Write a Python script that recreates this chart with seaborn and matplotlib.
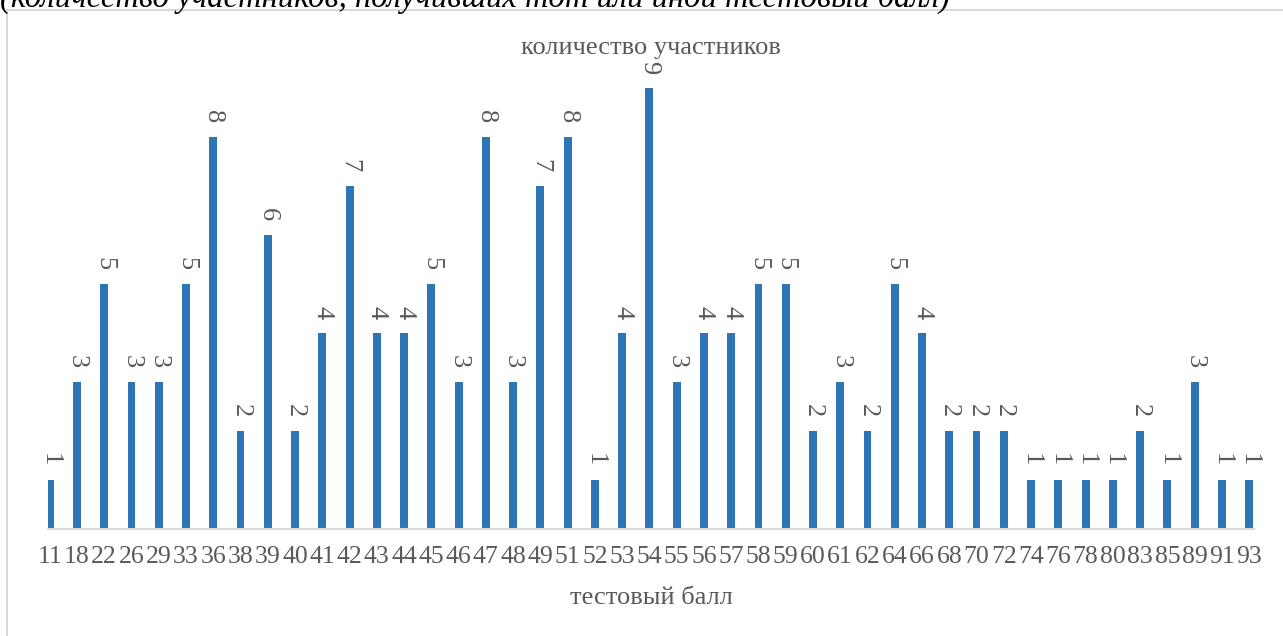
import matplotlib
matplotlib.use("Agg")
import matplotlib.pyplot as plt
import seaborn as sns
import pandas as pd
from matplotlib.lines import Line2D

scores = ["11", "18", "22", "26", "29", "33", "36", "38", "39", "40",
          "41", "42", "43", "44", "45", "46", "47", "48", "49", "51",
          "52", "53", "54", "55", "56", "57", "58", "59", "60", "61",
          "62", "64", "66", "68", "70", "72", "74", "76", "78", "80",
          "83", "85", "89", "91", "93"]
counts = [1, 3, 5, 3, 3, 5, 8, 2, 6, 2,
          4, 7, 4, 4, 5, 3, 8, 3, 7, 8,
          1, 4, 9, 3, 4, 4, 5, 5, 2, 3,
          2, 5, 4, 2, 2, 2, 1, 1, 1, 1,
          2, 1, 3, 1, 1]
title = "количество участников"
xlabel = "тестовый балл"
caption = "(количество участников, получивших тот или иной тестовый балл)"

df = pd.DataFrame({"score": scores, "count": counts})

sns.set_style("white")
plt.rcParams["font.family"] = ["Liberation Serif", "DejaVu Serif"]

W, H = 1283, 636
fig = plt.figure(figsize=(W / 100, H / 100), dpi=100)
grey = "#595959"
bar_color = "#2E75B6"

# axes spans pixel 48..1254; category i sits at 49.7 + 27.26*i
left, right = 48, 1254
c0, step = 49.7, 27.26
base, top = 529, 39
ax = fig.add_axes([left / W, (H - base) / H, (right - left) / W, (base - top) / H])
sns.barplot(data=df, x="score", y="count", color=bar_color, width=0.29,
            saturation=1, linewidth=0, ax=ax, order=scores)
ax.set_ylim(0, 10)
ax.set_xlim((left - c0) / step, (right - c0) / step)
for s in ["top", "right", "left"]:
    ax.spines[s].set_visible(False)
ax.spines["bottom"].set_color("#D9D9D9")
ax.spines["bottom"].set_linewidth(1.5)
ax.set_yticks([])
ax.tick_params(axis="x", length=0, pad=12, labelsize=18.5, labelcolor=grey)
ax.set_ylabel("")
ax.set_xlabel("")
for lbl in ax.get_xticklabels():
    lbl.set_clip_on(False)

for i, v in enumerate(counts):
    ax.annotate(str(v), xy=(i, v), xytext=(0, 10), textcoords="offset points",
                rotation=270, ha="center", va="bottom", fontsize=19, color=grey,
                annotation_clip=False)

fig.text(651 / W, 1 - 48 / H, title, ha="center", va="center", fontsize=19, color=grey)
fig.text(651 / W, 1 - 598 / H, xlabel, ha="center", va="center", fontsize=19, color=grey)
fig.text(0.0, 1 - 7 / H, caption, ha="left", va="baseline", fontsize=23.5,
         style="italic", color="black")

fig.add_artist(Line2D([7 / W, 1], [1 - 10 / H, 1 - 10 / H], transform=fig.transFigure,
                      color="#D9D9D9", lw=1.5))
fig.add_artist(Line2D([7 / W, 7 / W], [1 - 10 / H, 0], transform=fig.transFigure,
                      color="#D9D9D9", lw=1.5))

fig.savefig("out.png", dpi=100)
